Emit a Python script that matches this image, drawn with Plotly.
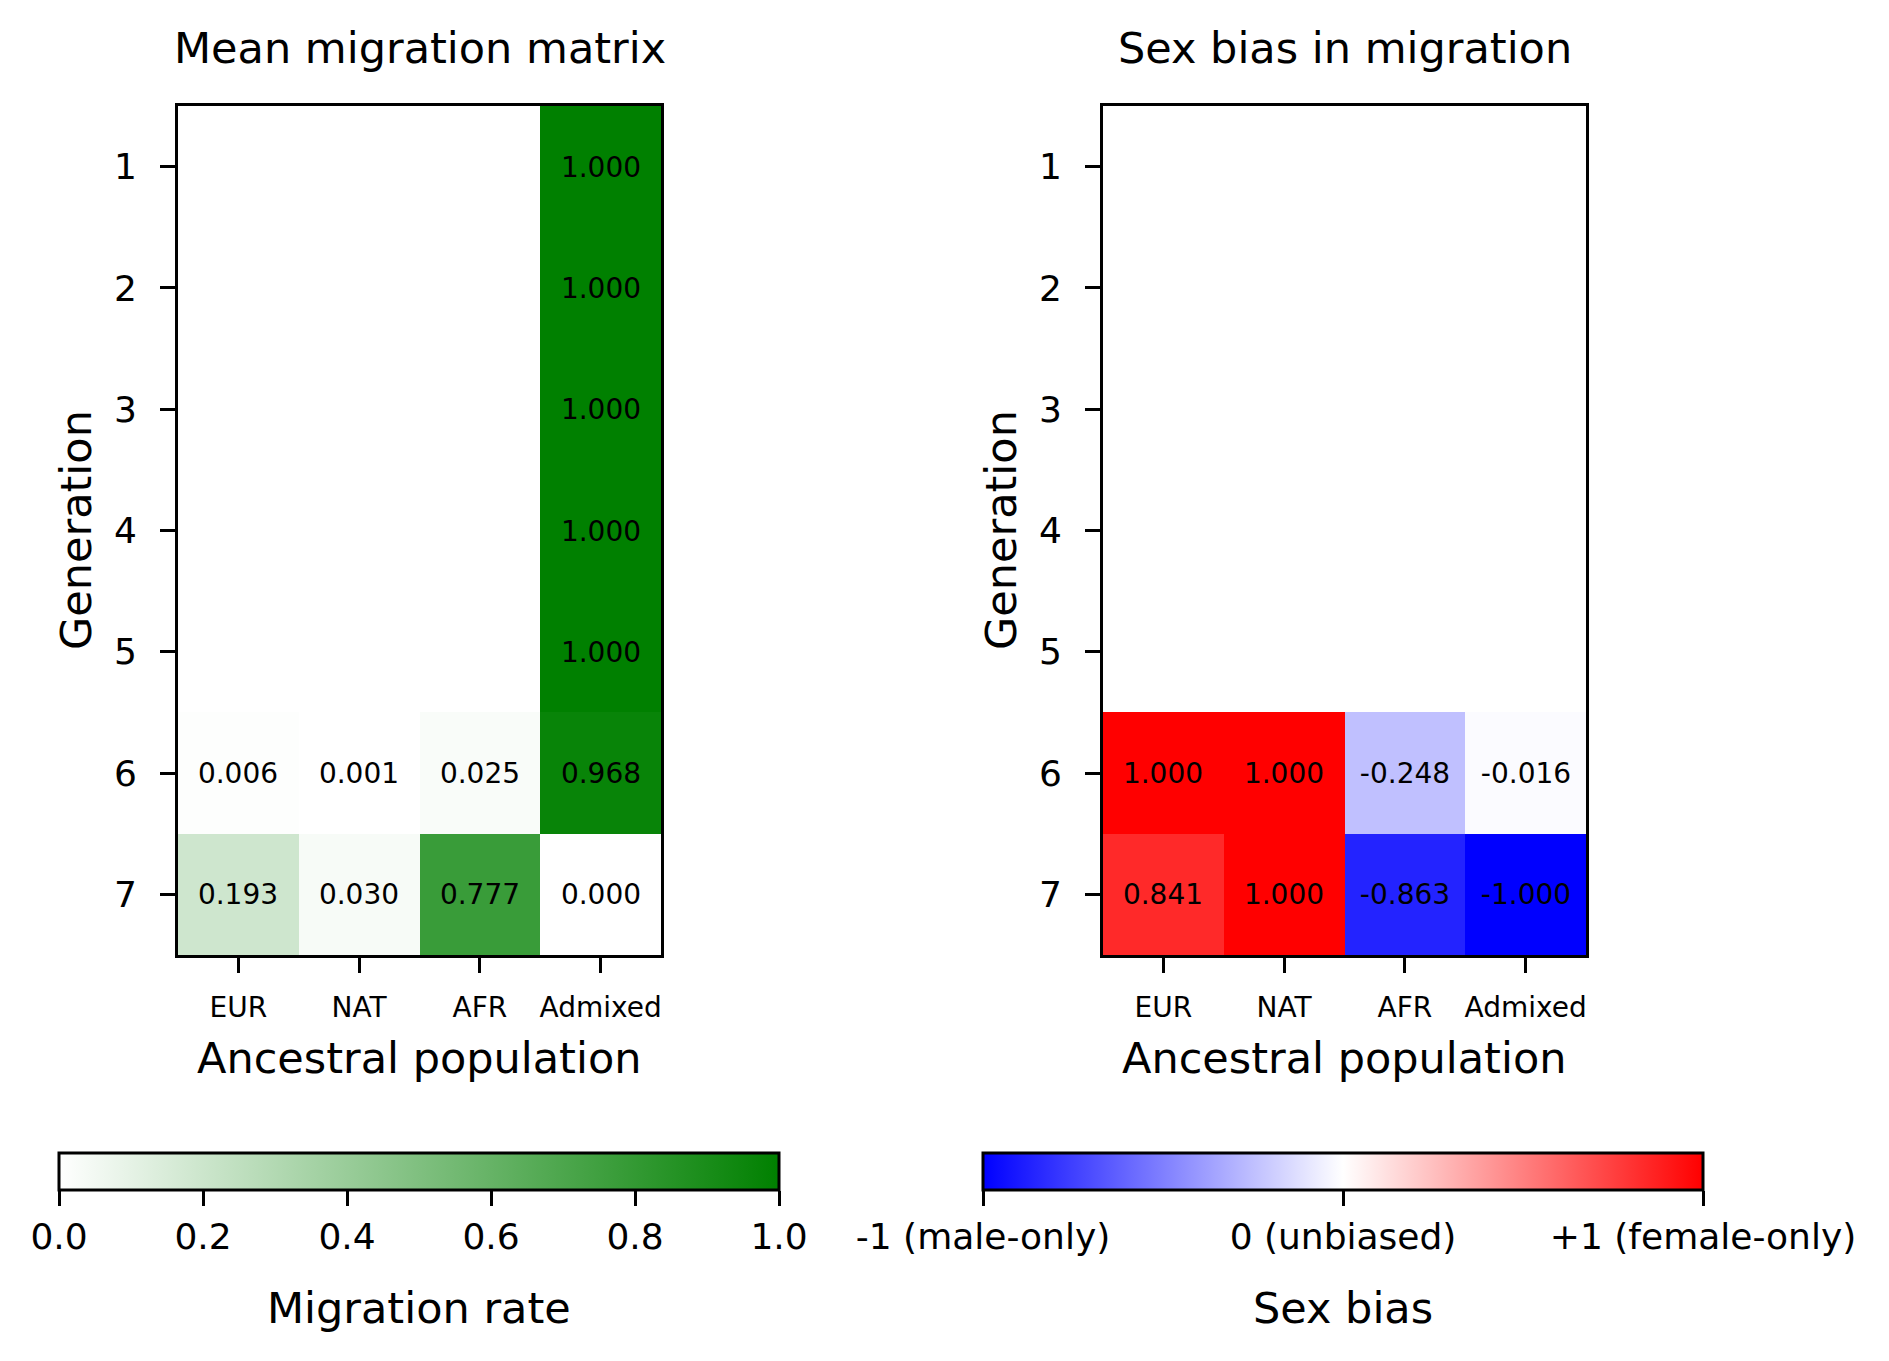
import plotly.graph_objects as go

# Datos
populations = ["EUR", "NAT", "AFR", "Admixed"]
generations = [1, 2, 3, 4, 5, 6, 7]

# tasa media de migracion por generacion (filas) y poblacion (columnas)
migration = [
    [None, None, None, 1.000],
    [None, None, None, 1.000],
    [None, None, None, 1.000],
    [None, None, None, 1.000],
    [None, None, None, 1.000],
    [0.006, 0.001, 0.025, 0.968],
    [0.193, 0.030, 0.777, 0.000],
]

# sesgo por sexo (-1 solo machos, +1 solo hembras)
sex_bias = [
    [None, None, None, None],
    [None, None, None, None],
    [None, None, None, None],
    [None, None, None, None],
    [None, None, None, None],
    [1.000, 1.000, -0.248, -0.016],
    [0.841, 1.000, -0.863, -1.000],
]

bias_ticks = [-1, 0, 1]
bias_ticktext = ["-1 (male-only)", "0 (unbiased)", "+1 (female-only)"]

W, H = 1889, 1361
OFF = 8  # margen por defecto del <body> en la pagina
FONT = "DejaVu Sans"
CB_LEN = 720


def fmt(rows):
    return [["" if v is None else "{:.3f}".format(v) for v in r] for r in rows]


def px_x(p):
    return (p - OFF) / W


def px_y(p):
    return 1 - (p - OFF) / H


fig = go.Figure()

# Matriz de migracion
fig.add_trace(go.Heatmap(
    z=migration, x=populations, y=generations,
    text=fmt(migration), texttemplate="%{text}",
    textfont=dict(family=FONT, size=28, color="black"),
    colorscale=[[0, "#ffffff"], [1, "#008000"]], zmin=0, zmax=1,
    xaxis="x", yaxis="y", hoverongaps=False,
    colorbar=dict(orientation="h", x=px_x(59 + CB_LEN / 2), xanchor="center",
                  y=px_y(1153), yanchor="top", len=CB_LEN / W, lenmode="fraction",
                  thickness=37, xpad=0, ypad=0,
                  outlinecolor="black", outlinewidth=3,
                  tickvals=[0, 0.2, 0.4, 0.6, 0.8, 1.0], tickformat=".1f",
                  ticks="outside", ticklen=15, tickwidth=3, tickcolor="black",
                  tickfont=dict(family=FONT, size=36, color="black")),
))

# Sesgo por sexo
fig.add_trace(go.Heatmap(
    z=sex_bias, x=populations, y=generations,
    text=fmt(sex_bias), texttemplate="%{text}",
    textfont=dict(family=FONT, size=28, color="black"),
    colorscale=[[0, "#0000ff"], [0.5, "#ffffff"], [1, "#ff0000"]], zmin=-1, zmax=1,
    xaxis="x2", yaxis="y2", hoverongaps=False,
    colorbar=dict(orientation="h", x=px_x(983 + CB_LEN / 2), xanchor="center",
                  y=px_y(1153), yanchor="top", len=CB_LEN / W, lenmode="fraction",
                  thickness=37, xpad=0, ypad=0,
                  outlinecolor="black", outlinewidth=3,
                  tickvals=bias_ticks, ticktext=bias_ticktext,
                  ticks="outside", ticklen=15, tickwidth=3, tickcolor="black",
                  tickfont=dict(family=FONT, size=36, color="black")),
))

xax = dict(showline=True, linecolor="black", linewidth=3, mirror=True,
           ticks="outside", ticklen=15, tickwidth=3, tickcolor="black",
           tickfont=dict(family=FONT, size=28, color="black"),
           ticklabelstandoff=10, range=[-0.5, 3.5], showgrid=False, zeroline=False,
           fixedrange=True)
yax = dict(showline=True, linecolor="black", linewidth=3, mirror=True,
           ticks="outside", ticklen=15, tickwidth=3, tickcolor="black",
           tickfont=dict(family=FONT, size=36, color="black"),
           tickvals=generations, range=[7.5, 0.5], showgrid=False, zeroline=False,
           ticklabelstandoff=16, fixedrange=True)

y_dom = [px_y(955), px_y(106)]
fig.update_layout(
    width=W, height=H,
    margin=dict(l=0, r=0, t=0, b=0),
    paper_bgcolor="white", plot_bgcolor="white",
    font=dict(family=FONT, color="black"),
    xaxis=dict(xax, domain=[px_x(178), px_x(661)], anchor="y"),
    yaxis=dict(yax, domain=y_dom, anchor="x"),
    xaxis2=dict(xax, domain=[px_x(1103), px_x(1586)], anchor="y2"),
    yaxis2=dict(yax, domain=y_dom, anchor="x2"),
    showlegend=False,
)

# Titulos y etiquetas
labels = [
    ("Mean migration matrix", 419.5, 48, 0),
    ("Sex bias in migration", 1344.5, 48, 0),
    ("Ancestral population", 419.5, 1058, 0),
    ("Ancestral population", 1344.5, 1058, 0),
    ("Generation", 76, 530, -90),
    ("Generation", 1001, 530, -90),
    ("Migration rate", 59 + CB_LEN / 2, 1308, 0),
    ("Sex bias", 983 + CB_LEN / 2, 1308, 0),
]
for txt, x, y, ang in labels:
    fig.add_annotation(text=txt, x=px_x(x), y=px_y(y), xref="paper", yref="paper",
                       xanchor="center", yanchor="middle", showarrow=False,
                       textangle=ang, font=dict(family=FONT, size=43, color="black"))

fig.write_html("out.html")
